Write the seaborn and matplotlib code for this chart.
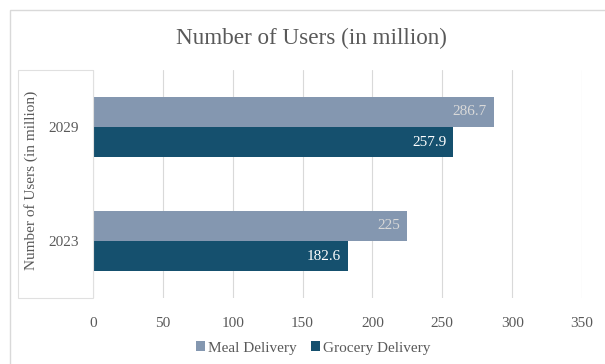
import matplotlib
matplotlib.use("Agg")
import matplotlib.pyplot as plt
from matplotlib.patches import Rectangle
import seaborn as sns
import pandas as pd

years = ["2029", "2023"]
meal = [286.7, 225]
grocery = [257.9, 182.6]
series = ["Meal Delivery", "Grocery Delivery"]
xticks = [0, 50, 100, 150, 200, 250, 300, 350]

df = pd.DataFrame({
    "Year": years * 2,
    "Users": meal + grocery,
    "Series": [series[0]] * len(years) + [series[1]] * len(years),
})

sns.set_theme(style="white")
plt.rcParams["font.family"] = ["Liberation Serif", "DejaVu Serif"]
txt = "#595959"

W, H = 605, 364
fig = plt.figure(figsize=(6.05, 3.64), dpi=100)
ax = fig.add_axes([93 / W, 1 - 298 / H, (582 - 93) / W, (298 - 70) / H])

colors = {"Meal Delivery": "#8497B0", "Grocery Delivery": "#15506E"}
sns.barplot(data=df, y="Year", x="Users", hue="Series", order=years,
            hue_order=series, palette=colors, orient="h", width=0.53,
            ax=ax, legend=True, saturation=1, linewidth=0, edgecolor="none")

label_colors = ["#D9D9D9", "white"]
for cont, lc in zip(ax.containers, label_colors):
    anns = ax.bar_label(cont, labels=[f"{v:g}" for v in cont.datavalues],
                        padding=-5, color=lc, fontsize=11)
    for a in anns:
        a.set_ha("right")

ax.set_xlim(0, 350)
ax.set_xticks(xticks)
ax.set_xticklabels([str(t) for t in xticks])
ax.tick_params(axis="x", colors=txt, labelsize=11, length=0, pad=14)
ax.tick_params(axis="y", colors=txt, labelsize=11, length=0, pad=10)
ax.grid(axis="x", color="#D9D9D9", linewidth=0.8)
ax.set_axisbelow(True)
for s in ax.spines.values():
    s.set_visible(False)
ax.set_xlabel("")
ax.set_ylabel("Number of Users (in million)", color=txt, fontsize=11)
ax.yaxis.set_label_coords((38 - 93) / (582 - 93), 0.515)

fig.text(311 / W, 1 - 38 / H, "Number of Users (in million)", color=txt,
         fontsize=16.7, ha="center", va="center")

handles, labels = ax.get_legend_handles_labels()
ax.get_legend().remove()
leg = fig.legend(handles, labels, loc="center", bbox_to_anchor=(313 / W, 1 - 348 / H),
                 ncol=2, frameon=False, fontsize=11, handlelength=0.6,
                 handleheight=0.6, handletextpad=0.2, columnspacing=0.9)
for t in leg.get_texts():
    t.set_color(txt)

# y-label box and outer chart border
fig.add_artist(Rectangle((18 / W, 1 - 298 / H), (93 - 18) / W, (298 - 70) / H,
                         transform=fig.transFigure, fill=False,
                         edgecolor="#E0E0E0", linewidth=0.8))
fig.add_artist(Rectangle((10 / W, -0.01), 1.0, 1 - 10 / H + 0.01,
                         transform=fig.transFigure, fill=False,
                         edgecolor="#D9D9D9", linewidth=1.0))

fig.savefig("out.png", dpi=100)
